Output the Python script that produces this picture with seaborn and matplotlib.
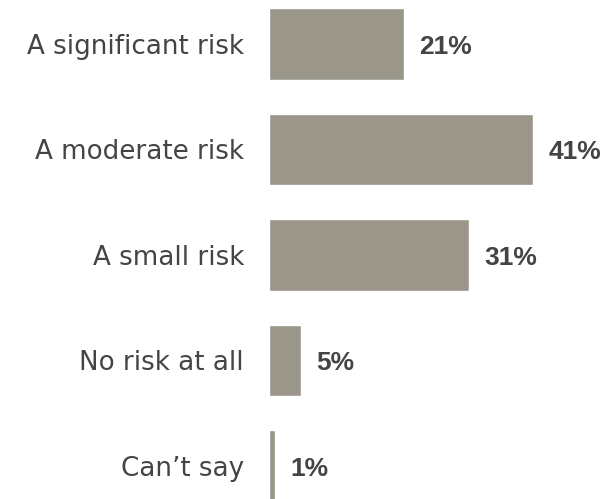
import matplotlib
matplotlib.use('Agg')
import matplotlib.pyplot as plt
import seaborn as sns
import pandas as pd

# 数据
categories = ['A significant risk', 'A moderate risk', 'A small risk', 'No risk at all', 'Can\u2019t say']
values = [21, 41, 31, 5, 1]
value_labels = ['21%', '41%', '31%', '5%', '1%']

BAR_COLOR = '#9a978a'
TEXT_COLOR = '#444444'

sns.set_style('white')
plt.rcParams['font.family'] = ['DejaVu Sans']

df = pd.DataFrame({'category': categories, 'value': values})

fig = plt.figure(figsize=(6.15, 4.99), dpi=100)
ax = fig.add_axes([269 / 615, 0, 346 / 615, 1])

sns.barplot(data=df, x='value', y='category', orient='h', color=BAR_COLOR,
            width=0.68, saturation=1, ax=ax)

ax.set_xlim(0, 346 / 6.44)
ax.set_ylim(4.313, -0.417)

# 数值标签
for i, (v, lab) in enumerate(zip(values, value_labels)):
    ax.annotate(lab, xy=(v, i), xytext=(11, -2), textcoords='offset points',
                ha='left', va='center', fontsize=19, fontweight='bold', color=TEXT_COLOR,
                family=['Liberation Sans', 'DejaVu Sans'])

ax.set_xlabel('')
ax.set_ylabel('')
ax.set_xticks([])
ax.tick_params(axis='y', length=0, pad=18, labelsize=18.8, labelcolor=TEXT_COLOR)
sns.despine(ax=ax, left=True, bottom=True)

fig.savefig('out.png', dpi=100)
